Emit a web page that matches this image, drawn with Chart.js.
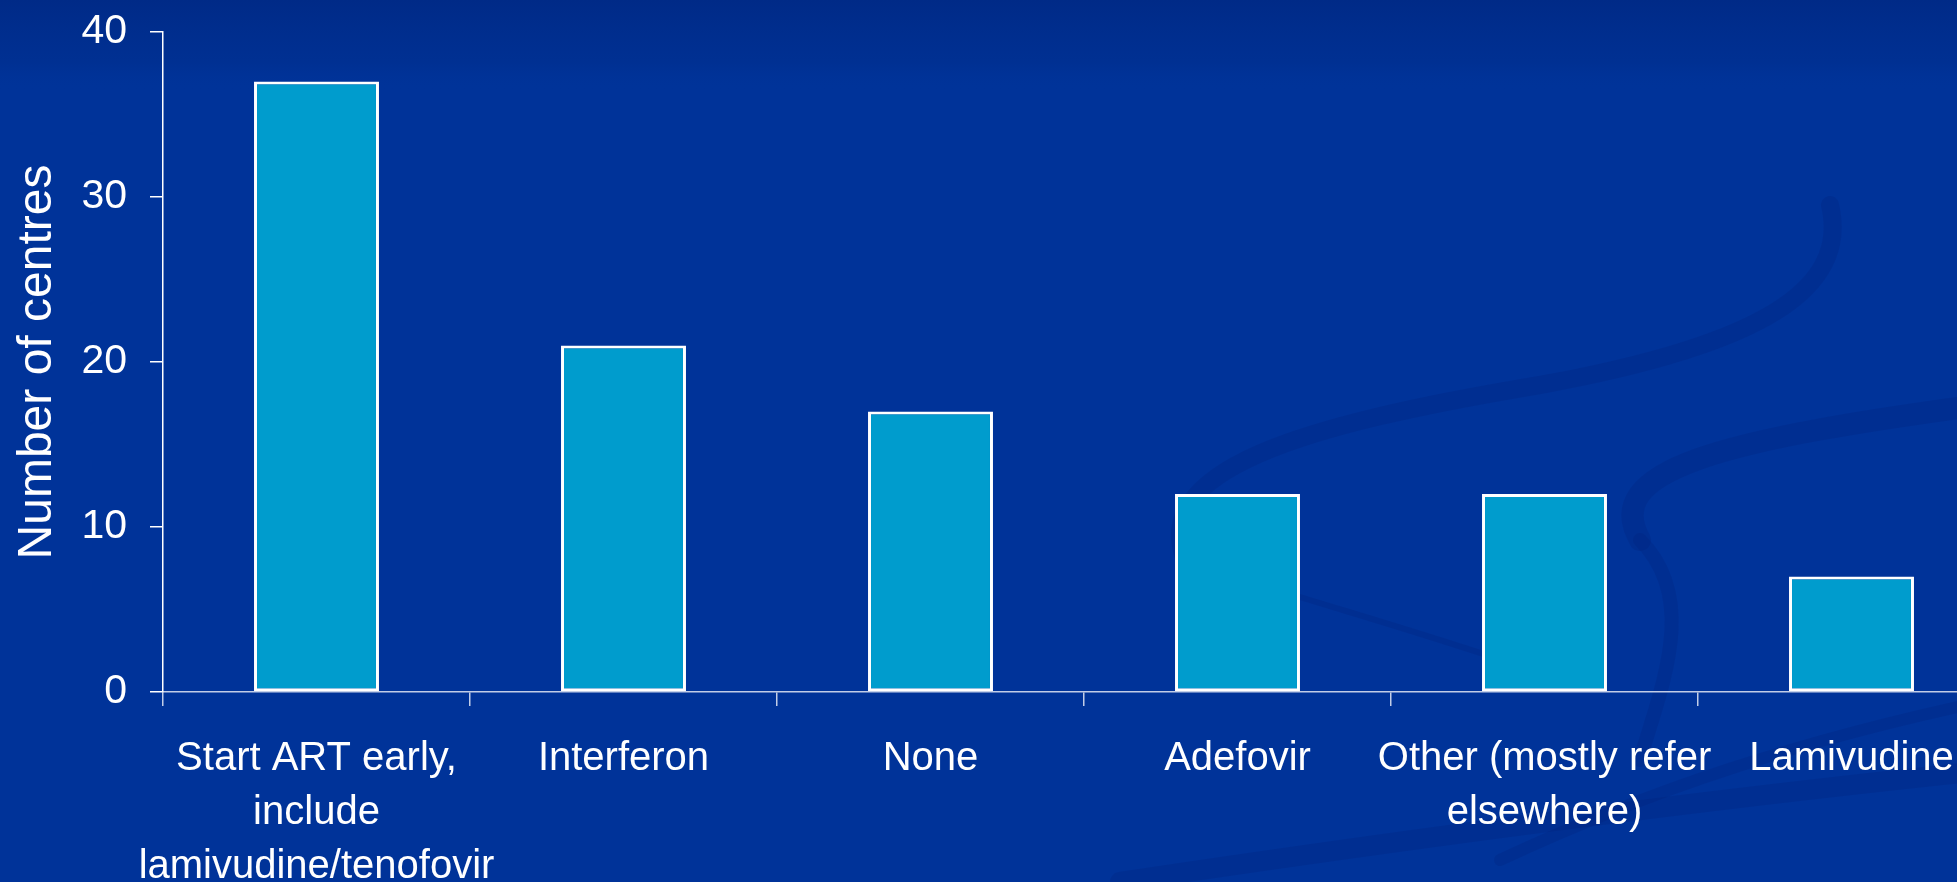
<!DOCTYPE html>
<html>
<head>
<meta charset="utf-8">
<script src="https://cdn.jsdelivr.net/npm/chart.js@4/dist/chart.umd.min.js"></script>
<style>
  html, body { margin: 0; padding: 0; overflow: hidden; background: #003399; }
  #wrap { width: 2005px; height: 882px; }
</style>
</head>
<body>
<div id="wrap"><canvas id="c" width="2005" height="882"></canvas></div>
<script>
const categories = [
  ['Start ART early,', 'include', 'lamivudine/tenofovir'],
  'Interferon',
  'None',
  'Adefovir',
  ['Other (mostly refer', 'elsewhere)'],
  'Lamivudine'
];
const centres = [37, 21, 17, 12, 12, 7];
const yMin = 0;
const yMax = 40;
const yStep = 10;
const yTitle = 'Number of centres';

const bgPlugin = {
  id: 'slideBackground',
  beforeDraw(chart) {
    const ctx = chart.ctx;
    const w = chart.width, h = chart.height;
    ctx.save();
    ctx.fillStyle = '#003399';
    ctx.fillRect(0, 0, w, h);
    const g = ctx.createLinearGradient(0, 0, 0, 90);
    g.addColorStop(0, 'rgba(0,42,135,1)');
    g.addColorStop(0.7, 'rgba(0,46,142,0.6)');
    g.addColorStop(1, 'rgba(0,51,153,0)');
    ctx.fillStyle = g;
    ctx.fillRect(0, 0, w, 90);
    // faint decorative swooshes of the slide template
    ctx.strokeStyle = 'rgba(0,30,115,0.2)';
    ctx.lineCap = 'round';
    ctx.lineWidth = 18;
    ctx.beginPath();
    ctx.moveTo(1185, 560);
    ctx.bezierCurveTo(1150, 470, 1300, 425, 1540, 385);
    ctx.bezierCurveTo(1760, 345, 1850, 290, 1830, 205);
    ctx.stroke();
    ctx.lineWidth = 22;
    ctx.beginPath();
    ctx.moveTo(1640, 540);
    ctx.bezierCurveTo(1600, 470, 1720, 440, 1980, 405);
    ctx.stroke();
    ctx.lineWidth = 6;
    ctx.beginPath();
    ctx.moveTo(1185, 560);
    ctx.bezierCurveTo(1300, 600, 1420, 630, 1560, 680);
    ctx.stroke();
    ctx.lineWidth = 14;
    ctx.beginPath();
    ctx.moveTo(1640, 540);
    ctx.bezierCurveTo(1700, 600, 1660, 690, 1640, 760);
    ctx.stroke();
    ctx.lineWidth = 20;
    ctx.beginPath();
    ctx.moveTo(1120, 882);
    ctx.bezierCurveTo(1400, 840, 1700, 800, 1990, 770);
    ctx.stroke();
    ctx.lineWidth = 12;
    ctx.beginPath();
    ctx.moveTo(1500, 860);
    ctx.bezierCurveTo(1650, 790, 1800, 740, 1990, 700);
    ctx.stroke();
    ctx.restore();
  }
};

const labelFont = { family: '"Liberation Sans", Arial, sans-serif', size: 40, lineHeight: 1.35 };

new Chart(document.getElementById('c'), {
  type: 'bar',
  data: {
    labels: categories,
    datasets: [{
      data: centres,
      backgroundColor: 'rgb(0,156,205)',
      borderColor: '#ffffff',
      borderWidth: 3,
      borderSkipped: false,
      categoryPercentage: 1.0,
      barPercentage: 0.407
    }]
  },
  options: {
    responsive: false,
    animation: false,
    events: [],
    layout: { padding: { top: 32, right: 0, bottom: 0, left: 0 } },
    plugins: { legend: { display: false }, tooltip: { enabled: false } },
    scales: {
      x: {
        offset: true,
        afterFit(scale) { scale.height = 190; },
        grid: {
          display: true,
          offset: true,
          drawOnChartArea: false,
          drawTicks: true,
          tickLength: 14,
          color: 'rgba(215,222,240,0.9)',
          lineWidth: 1.5
        },
        border: { display: true, color: 'rgba(215,222,240,0.9)', width: 1.5 },
        ticks: {
          color: '#ffffff',
          font: labelFont,
          padding: 26,
          maxRotation: 0,
          autoSkip: false
        }
      },
      y: {
        min: yMin,
        max: yMax,
        afterFit(scale) {
          scale.width = 163;
          scale.paddingTop = 0;
          scale.paddingBottom = 0;
        },
        grid: {
          display: true,
          drawOnChartArea: false,
          drawTicks: true,
          tickLength: 13,
          color: '#ffffff',
          lineWidth: 1.5
        },
        border: { display: true, color: '#ffffff', width: 1.5 },
        ticks: {
          stepSize: yStep,
          color: '#ffffff',
          font: { family: '"Liberation Sans", Arial, sans-serif', size: 41 },
          padding: 23
        },
        title: {
          display: true,
          text: yTitle,
          color: '#ffffff',
          font: { family: '"Liberation Sans", Arial, sans-serif', size: 48, lineHeight: 1 },
          padding: { top: 14, bottom: 0 }
        }
      }
    }
  },
  plugins: [bgPlugin]
});
</script>
</body>
</html>
